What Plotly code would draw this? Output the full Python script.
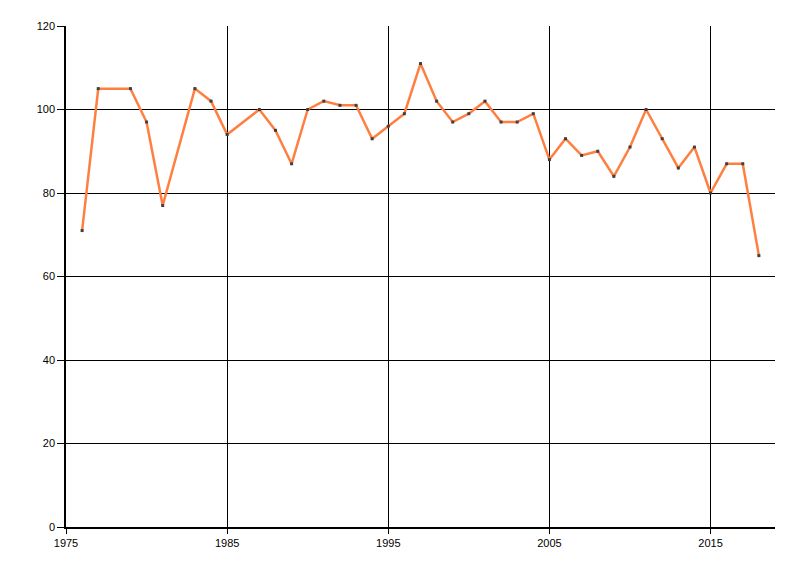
import plotly.graph_objects as go

years = [1976, 1977, 1979, 1980, 1981, 1983, 1984, 1985, 1987, 1988, 1989, 1990,
         1991, 1992, 1993, 1994, 1995, 1996, 1997, 1998, 1999, 2000, 2001, 2002,
         2003, 2004, 2005, 2006, 2007, 2008, 2009, 2010, 2011, 2012, 2013, 2014,
         2015, 2016, 2017, 2018]
values = [71, 105, 105, 97, 77, 105, 102, 94, 100, 95, 87, 100,
          102, 101, 101, 93, 96, 99, 111, 102, 97, 99, 102, 97,
          97, 99, 88, 93, 89, 90, 84, 91, 100, 93, 86, 91,
          80, 87, 87, 65]

x_ticks = [1975, 1985, 1995, 2005, 2015]
y_ticks = [0, 20, 40, 60, 80, 100, 120]

fig = go.Figure()
fig.add_trace(go.Scatter(
    x=years, y=values, mode="lines+markers",
    line=dict(color="#ff7f40", width=2.5),
    marker=dict(color="#404040", size=3, symbol="square"),
    showlegend=False, hoverinfo="x+y",
))

font = dict(family="Liberation Sans, Arial, sans-serif", size=11, color="black")
fig.update_layout(
    width=800, height=576,
    margin=dict(l=58, r=33, t=18, b=57),
    paper_bgcolor="white", plot_bgcolor="white",
    font=font,
    xaxis=dict(range=[1975, 2019], tickmode="array", tickvals=x_ticks,
               ticktext=[str(v) for v in x_ticks],
               showgrid=True, gridcolor="black", gridwidth=1,
               showline=True, linecolor="black", linewidth=1.5,
               ticks="outside", ticklen=5, tickcolor="black",
               zeroline=False, fixedrange=True),
    yaxis=dict(range=[0, 120], tickmode="array", tickvals=y_ticks,
               ticktext=[str(v) for v in y_ticks],
               showgrid=True, gridcolor="black", gridwidth=1,
               showline=True, linecolor="black", linewidth=1.5,
               ticks="outside", ticklen=7, tickcolor="black",
               zeroline=False, fixedrange=True),
)

fig.write_html("out.html")
